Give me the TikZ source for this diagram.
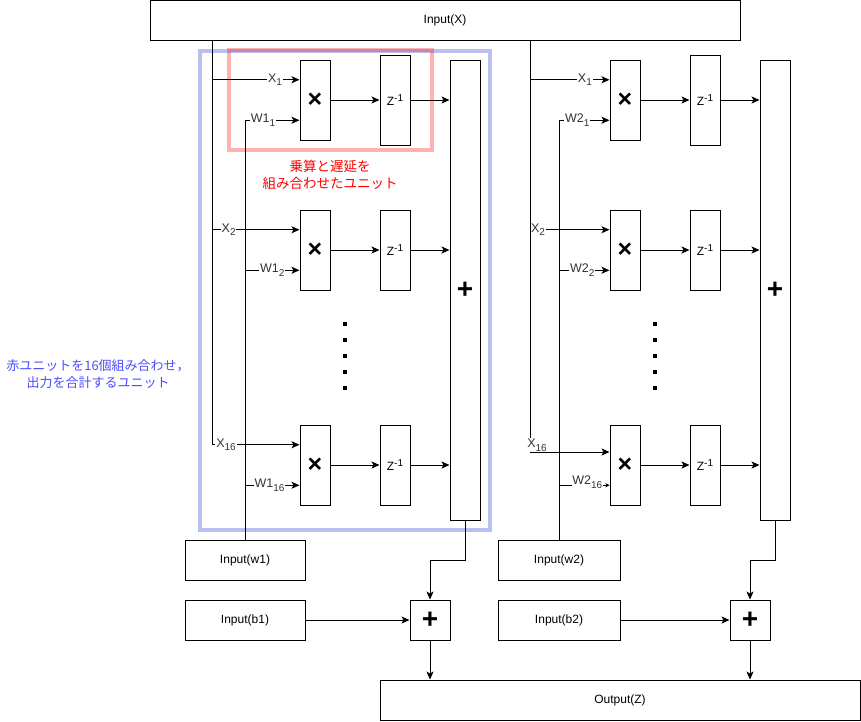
\documentclass[tikz,border=0pt]{standalone}
\usepackage{fontspec}
\setmainfont{Liberation Sans}
\newfontfamily\jp{Noto Sans CJK JP}
\usetikzlibrary{arrows.meta,calc}
\definecolor{unitblue}{RGB}{0,30,205}
\definecolor{unitred}{RGB}{255,0,0}
\definecolor{bluetext}{RGB}{77,77,255}
\definecolor{labgray}{RGB}{51,51,51}
\newcommand{\lsub}[1]{\raisebox{-3.5pt}{\fontsize{10}{10}\selectfont #1}}
\newcommand{\lsup}[1]{\raisebox{4pt}{\fontsize{10}{10}\selectfont #1}}
\begin{document}
\begin{tikzpicture}[x=1pt,y=-1pt,line width=1pt,
  box/.style={draw,line width=1pt,fill=white,inner sep=0pt,font=\fontsize{12}{14}\selectfont},
  mulbox/.style={box,minimum width=30pt,minimum height=80pt,font=\fontsize{25}{25}\selectfont\bfseries},
  delbox/.style={box,minimum width=30pt,minimum height=80pt},
  sumbox/.style={box,minimum width=30pt,minimum height=460pt,font=\fontsize{28}{28}\selectfont\bfseries},
  plusbox/.style={box,minimum width=40pt,minimum height=40pt,font=\fontsize{28}{28}\selectfont\bfseries},
  iobox/.style={box,minimum width=120pt,minimum height=40pt},
  arr/.style={-{Stealth[length=8pt,width=7pt,inset=2pt]}},
  smallarr/.style={-{Stealth[length=4pt,width=4pt,inset=1pt]}},
  lab/.style={fill=white,inner sep=0.8pt,text=labgray,font=\fontsize{12.5}{14}\selectfont},
  dotsq/.style={fill=black,minimum size=4pt,inner sep=0pt}]
\useasboundingbox (0,0) rectangle (861,721);
\fill[white] (0,0) rectangle (861,721);

% grouping frames
\node[draw=unitblue,draw opacity=0.28,line width=3.5pt,minimum width=290pt,minimum height=479pt,inner sep=0pt] (blueunit) at (345,290.5) {};
\node[draw=unitred,draw opacity=0.3,line width=3.5pt,minimum width=203pt,minimum height=100pt,inner sep=0pt] (redunit) at (330.5,100) {};
\node[text=red,font=\jp\fontsize{13.5}{16.5}\selectfont,align=center] (redtext) at (330,175) {乗算と遅延を\\組み合わせたユニット};
\node[text=bluetext,font=\jp\fontsize{13}{16.5}\selectfont,align=center] (bluetextnode) at (98,374) {赤ユニットを16個組み合わせ，\\出力を合計するユニット};

% boxes
\node[box,minimum width=590pt,minimum height=40pt] (inX) at (445,20) {Input(X)};

\node[mulbox] (mL1) at (315,100) {×};
\node[mulbox] (mL2) at (315,250) {×};
\node[mulbox] (mL3) at (315,465) {×};
\node[delbox,minimum height=90pt] (zL1) at (395,100) {Z\lsup{-1}};
\node[delbox] (zL2) at (395,250) {Z\lsup{-1}};
\node[delbox] (zL3) at (395,465) {Z\lsup{-1}};
\node[sumbox] (sL) at (465,290) {+};

\node[mulbox] (mR1) at (625,100) {×};
\node[mulbox] (mR2) at (625,250) {×};
\node[mulbox] (mR3) at (625,465) {×};
\node[delbox,minimum height=90pt] (zR1) at (705,100) {Z\lsup{-1}};
\node[delbox] (zR2) at (705,250) {Z\lsup{-1}};
\node[delbox] (zR3) at (705,465) {Z\lsup{-1}};
\node[sumbox] (sR) at (775,290) {+};

\node[iobox] (inw1) at (245,560) {Input(w1)};
\node[iobox] (inb1) at (245,620) {Input(b1)};
\node[iobox,minimum width=122pt] (inw2) at (559,560) {Input(w2)};
\node[iobox,minimum width=122pt] (inb2) at (559,620) {Input(b2)};
\node[plusbox] (pL) at (430,620) {+};
\node[plusbox] (pR) at (750,620) {+};
\node[box,minimum width=480pt,minimum height=40pt] (out) at (620,700) {Output(Z)};

% dots
\foreach \k in {0,...,4} {
  \node[dotsq] (dL\k) at (345,324+16*\k) {};
  \node[dotsq] (dR\k) at (655,324+16*\k) {};
}

% input points on multipliers
\foreach \s in {L,R} {
  \foreach \r in {1,2,3} {
    \coordinate (m\s\r a) at ($(m\s\r.north west)!0.25!(m\s\r.south west)$);
    \coordinate (m\s\r b) at ($(m\s\r.north west)!0.75!(m\s\r.south west)$);
  }
}
\coordinate (mR3x) at ($(mR3.west)+(0,-13)$);
\coordinate (xL) at (212,40);
\coordinate (xR) at (530,40);

% left X
\draw[arr] (xL |- mL1a) -- node[lab,pos=0.72]{X\lsub{1}} (mL1a);
\draw[arr] (xL |- mL2a) -- node[lab,pos=0.19]{X\lsub{2}} (mL2a);
\draw[arr] (xL) |- node[lab,pos=0.58]{X\lsub{16}} (mL3a);
% left W
\draw[arr] (inw1.north) |- node[lab,pos=0.665]{W1\lsub{1}} (mL1b);
\draw[arr] (inw1.north |- mL2b) -- node[lab,pos=0.5]{W1\lsub{2}} (mL2b);
\draw[arr] (inw1.north |- mL3b) -- node[lab,pos=0.45]{W1\lsub{16}} (mL3b);
% right X
\draw[arr] (xR |- mR1a) -- node[lab,pos=0.69]{X\lsub{1}} (mR1a);
\draw[arr] (xR |- mR2a) -- node[lab,pos=0.1]{X\lsub{2}} (mR2a);
\draw[arr] (xR) |- node[lab,pos=0.5,xshift=7pt,yshift=7pt]{X\lsub{16}} (mR3x);
% right W
\draw[arr] (inw2.north) |- node[lab,pos=0.68]{W2\lsub{1}} (mR1b);
\draw[arr] (inw2.north |- mR2b) -- node[lab,pos=0.46]{W2\lsub{2}} (mR2b);
\draw[smallarr] (inw2.north |- mR3b) -- node[lab,pos=0.56,yshift=3pt]{W2\lsub{16}} (mR3b);

% multiplier -> delay -> sum
\foreach \s in {L,R} {
  \foreach \r in {1,2,3} {
    \draw[arr] (m\s\r) -- (z\s\r);
    \draw[arr] (z\s\r) -- (z\s\r -| s\s.west);
  }
}

% sums -> bias adders -> output
\draw[arr] (sL.south) -- ++(0,40) -| (pL.north);
\draw[arr] (sR.south) -- ++(0,40) -| (pR.north);
\draw[arr] (inb1) -- (pL);
\draw[arr] (inb2) -- (pR);
\draw[arr] (pL) -- (pL |- out.north);
\draw[arr] (pR) -- (pR |- out.north);
\end{tikzpicture}
\end{document}
